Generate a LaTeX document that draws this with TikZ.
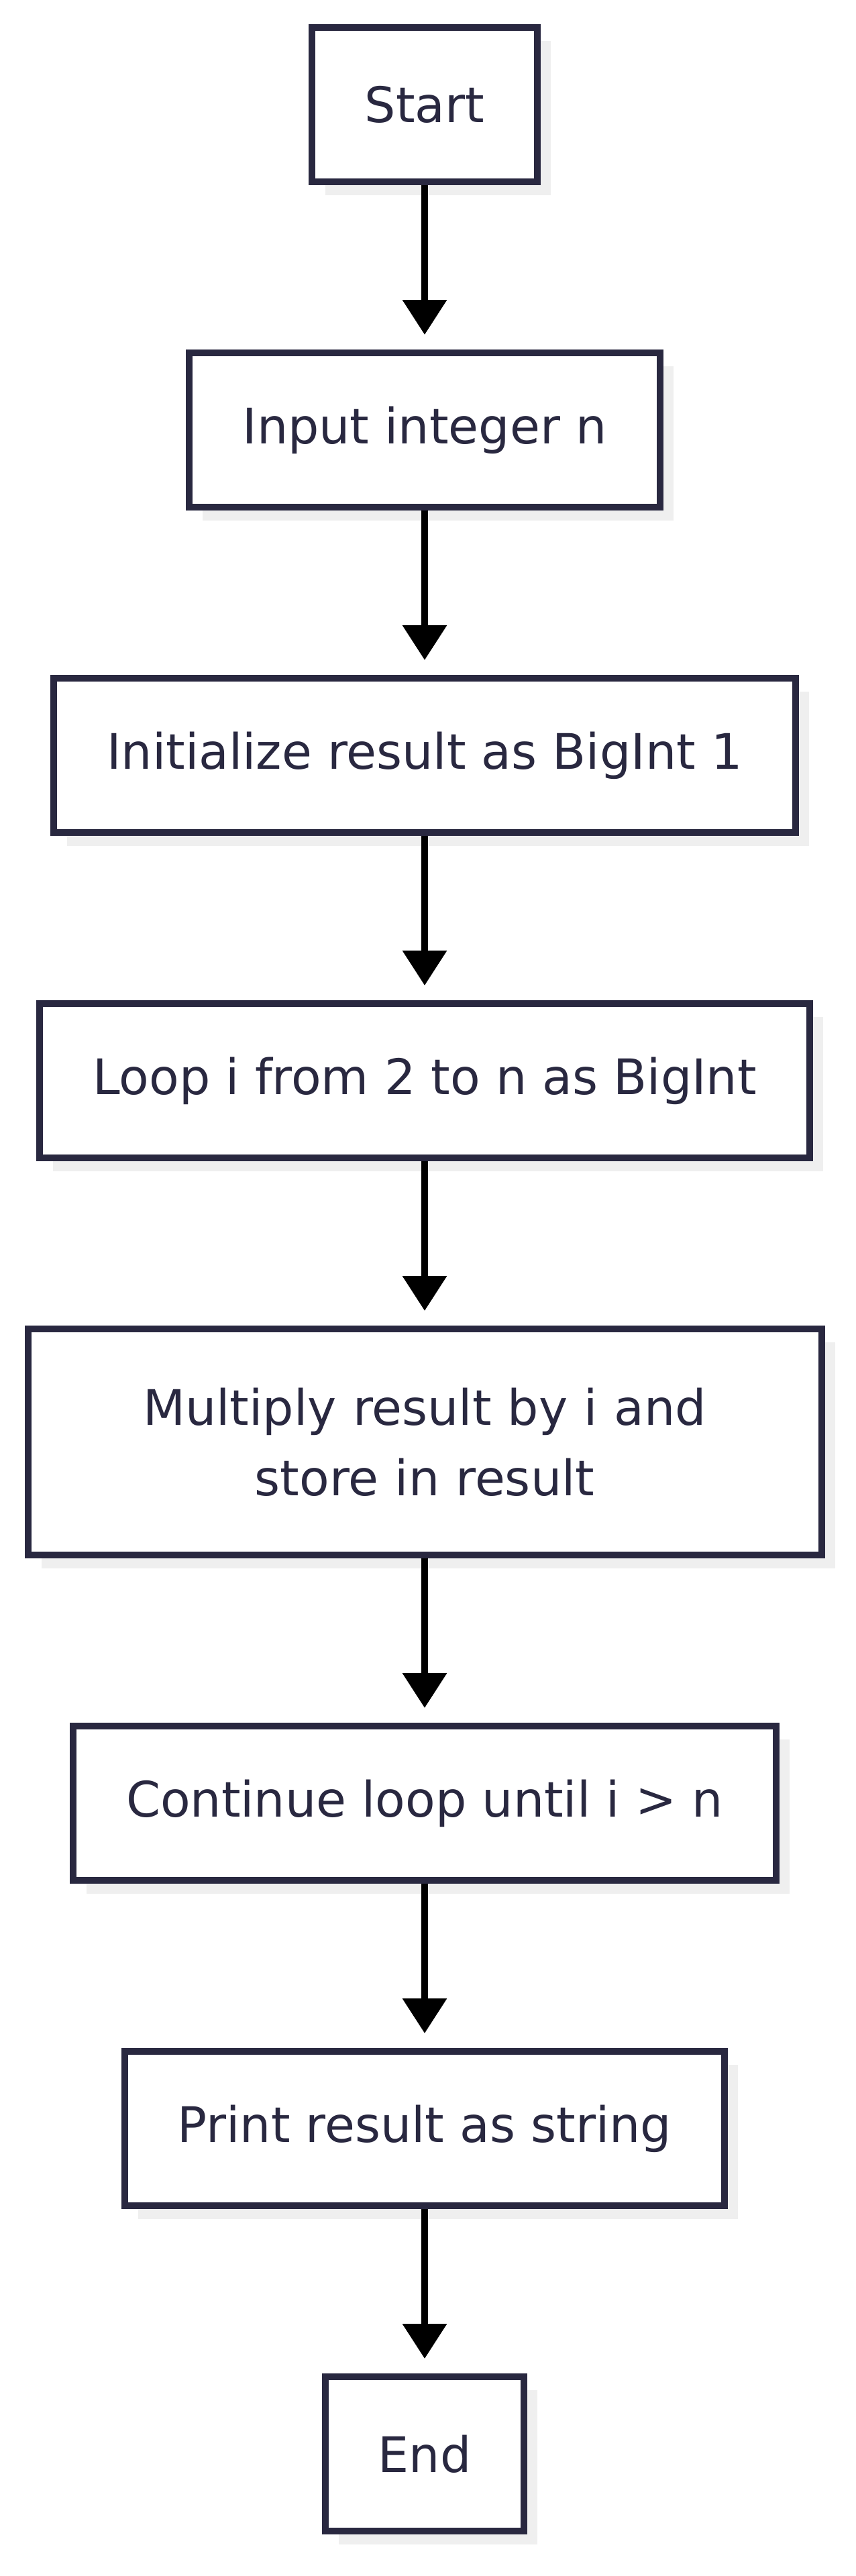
\documentclass[tikz,border=0pt]{standalone}
\usepackage{fontspec}
\setmainfont{DejaVu Sans}
\usetikzlibrary{positioning,arrows.meta,shadows}
\definecolor{boxline}{HTML}{292840}
\definecolor{shadowgray}{HTML}{EFEFEF}

\begin{document}
\begin{tikzpicture}[>={Triangle[width=32pt,length=26pt]}, node distance=122.5pt,
  font=\fontsize{36.5pt}{52.5pt}\selectfont,
  box/.style={draw=boxline, text=boxline, fill=white, line width=5pt, inner xsep=39.5pt, inner ysep=20pt,
    minimum height=115pt, align=center,
    drop shadow={shadow xshift=10pt, shadow yshift=-10pt, fill=shadowgray, opacity=1}},
  flow/.style={->, line width=5pt, shorten >=11pt}]
\useasboundingbox (0,0) rectangle (637.5pt,-1920pt);
\node[box] (start) at (316.5pt,-78pt) {Start};
\node[box, below=of start] (input) {Input integer n};
\node[box, below=of input] (init) {Initialize result as BigInt 1};
\node[box, below=of init] (loop) {Loop i from 2 to n as BigInt};
\node[box, below=of loop, text width=512.5pt, minimum height=168.5pt] (mult) {Multiply result by i and\\store in result};
\node[box, below=of mult] (cont) {Continue loop until i > n};
\node[box, below=of cont] (print) {Print result as string};
\node[box, below=of print] (end) {End};
\draw[flow] (start) -- (input); \draw[flow] (input) -- (init); \draw[flow] (init) -- (loop);
\draw[flow] (loop) -- (mult); \draw[flow] (mult) -- (cont); \draw[flow] (cont) -- (print);
\draw[flow] (print) -- (end);
\end{tikzpicture}
\end{document}
